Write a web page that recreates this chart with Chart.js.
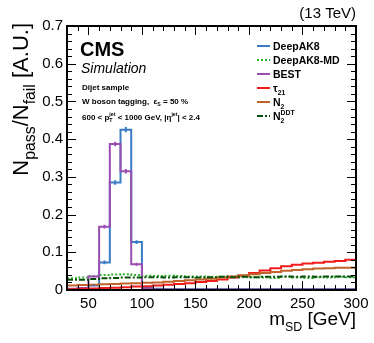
<!DOCTYPE html>
<html><head><meta charset="utf-8">
<script src="https://cdn.jsdelivr.net/npm/chart.js@4/dist/chart.umd.min.js"></script>
<style>html,body{margin:0;padding:0;background:#fff}canvas{display:block}</style>
</head><body>
<canvas id="c" width="374" height="343"></canvas>
<script>
// ---- data ----
const binEdges = [30,40,50,60,70,80,90,100,110,120,130,140,150,160,170,180,190,200,210,220,230,240,250,260,270,280,290,300];
const deepAK8   = [0.002,0.004,0.012,0.073,0.285,0.425,0.127,0.008,0.003,0.002,0.002,0.002,0.002,0.002,0.002,0.002,0.002,0.002,0.002,0.002,0.002,0.002,0.002,0.002,0.002,0.002,0.002];
const deepAK8Err= [0,0,0.002,0.005,0.006,0.007,0.005,0,0,0,0,0,0,0,0,0,0,0,0,0,0,0,0,0,0,0,0];
const deepAK8MD = [0.031,0.033,0.037,0.040,0.041,0.042,0.040,0.038,0.037,0.038,0.037,0.036,0.036,0.035,0.035,0.036,0.034,0.034,0.033,0.032,0.035,0.033,0.032,0.034,0.033,0.035,0.034];
const best      = [0.003,0.005,0.036,0.168,0.387,0.315,0.068,0.004,0.001,0.001,0.001,0.001,0.001,0.001,0.001,0.001,0.001,0.001,0.001,0.001,0.001,0.001,0.001,0.001,0.001,0.001,0.001];
const bestErr   = [0,0,0.002,0.005,0.006,0.006,0.004,0,0,0,0,0,0,0,0,0,0,0,0,0,0,0,0,0,0,0,0];
const tau21     = [0.002,0.003,0.004,0.005,0.006,0.007,0.009,0.010,0.012,0.014,0.016,0.018,0.021,0.024,0.028,0.033,0.038,0.045,0.052,0.058,0.063,0.067,0.070,0.072,0.075,0.077,0.080];
const n2        = [0.012,0.013,0.014,0.015,0.016,0.017,0.018,0.019,0.020,0.022,0.024,0.026,0.028,0.030,0.033,0.036,0.039,0.042,0.045,0.048,0.051,0.053,0.055,0.057,0.058,0.059,0.059];
const n2DDT     = [0.027,0.027,0.029,0.031,0.032,0.033,0.033,0.034,0.034,0.033,0.034,0.034,0.033,0.034,0.035,0.034,0.035,0.034,0.035,0.035,0.036,0.035,0.036,0.035,0.036,0.036,0.036];
const xTickLabels = [50,100,150,200,250,300];
const yTickLabels = [0,0.1,0.2,0.3,0.4,0.5,0.6,0.7];

const FONT = '"Liberation Sans", Arial, Helvetica, sans-serif';

function histPoints(vals){
  const pts = vals.map((v,i)=>({x:binEdges[i], y:v}));
  pts.push({x:binEdges[binEdges.length-1], y:vals[vals.length-1]});
  return pts;
}

const series = [
  {label:'DeepAK8',    data:deepAK8,   err:deepAK8Err, color:'#3b7cc4', dash:[]},
  {label:'DeepAK8-MD', data:deepAK8MD, color:'#2fb02f', dash:[2,2]},
  {label:'BEST',       data:best,      err:bestErr, color:'#9a4eb2', dash:[]},
  {label:'tau21',      data:tau21,     color:'#f01c1c', dash:[]},
  {label:'N2',         data:n2,        color:'#c0642c', dash:[]},
  {label:'N2DDT',      data:n2DDT,     color:'#0b4d0b', dash:[6,2,2,2]}
];

function richWidth(ctx, parts, size, weight, style, sf){
  sf = sf || 0.65;
  let w=0;
  for(const p of parts){
    if(p.stack){
      ctx.font = `${style||''} ${weight||''} ${size*sf}px ${FONT}`;
      w += Math.max(ctx.measureText(p.sub).width, ctx.measureText(p.sup).width);
    } else {
      const s = (p.sub||p.sup)? size*sf : size;
      ctx.font = `${style||''} ${weight||''} ${s}px ${FONT}`;
      w += ctx.measureText(p.t).width;
    }
  }
  return w;
}
function drawRich(ctx, x, y, parts, size, weight, style, sf){
  sf = sf || 0.65;
  ctx.textAlign='left'; ctx.textBaseline='alphabetic';
  for(const p of parts){
    if(p.stack){
      const s=size*sf;
      ctx.font = `${style||''} ${weight||''} ${s}px ${FONT}`;
      ctx.fillText(p.sub, x, y+size*0.3);
      ctx.fillText(p.sup, x, y-size*0.45);
      x += Math.max(ctx.measureText(p.sub).width, ctx.measureText(p.sup).width);
    } else if(p.sub||p.sup){
      const s=size*sf;
      ctx.font = `${style||''} ${weight||''} ${s}px ${FONT}`;
      ctx.fillText(p.t, x, y + (p.sub? size*0.3 : -size*0.45));
      x += ctx.measureText(p.t).width;
    } else {
      ctx.font = `${style||''} ${weight||''} ${size}px ${FONT}`;
      ctx.fillText(p.t, x, y);
      x += ctx.measureText(p.t).width;
    }
  }
  return x;
}

const legendLabels = [
  [{t:'DeepAK8'}],
  [{t:'DeepAK8-MD'}],
  [{t:'BEST'}],
  [{t:'\u03C4'},{t:'21',sub:true}],
  [{t:'N'},{t:'2',sub:true}],
  [{t:'N'},{stack:true, sub:'2', sup:'DDT'}]
];

const errorBars = {
  id:'errorBars',
  afterDatasetsDraw(chart){
    const {ctx, scales:{x,y}} = chart;
    ctx.save();
    chart.data.datasets.forEach(ds=>{
      if(!ds.err) return;
      ctx.strokeStyle = ds.borderColor; ctx.lineWidth = 2;
      ctx.beginPath();
      ds.err.forEach((e,i)=>{
        if(!e) return;
        const v = ds.vals[i];
        const cx = x.getPixelForValue((binEdges[i]+binEdges[i+1])/2);
        ctx.moveTo(cx, y.getPixelForValue(v-e));
        ctx.lineTo(cx, y.getPixelForValue(v+e));
      });
      ctx.stroke();
    });
    ctx.restore();
  }
};

const decor = {
  id:'decor',
  afterDraw(chart){
    const {ctx, chartArea:a, scales:{x,y}} = chart;
    ctx.save();
    ctx.strokeStyle='#000'; ctx.lineWidth=1;
    ctx.beginPath();
    for(let v=30; v<=300; v+=10){
      const px = Math.round(x.getPixelForValue(v))+0.5;
      const L = (v%50===0)?9:5;
      ctx.moveTo(px,a.bottom); ctx.lineTo(px,a.bottom-L);
      ctx.moveTo(px,a.top); ctx.lineTo(px,a.top+L);
    }
    for(let i=0;i<=35;i++){
      const py = Math.round(y.getPixelForValue(i*0.02))+0.5;
      const L = (i%5===0)?9:5;
      ctx.moveTo(a.left,py); ctx.lineTo(a.left+L,py);
      ctx.moveTo(a.right,py); ctx.lineTo(a.right-L,py);
    }
    ctx.stroke();
    ctx.lineWidth=2;
    ctx.strokeRect(a.left,a.top,a.right-a.left,a.bottom-a.top);

    ctx.fillStyle='#000';
    ctx.font = `15px ${FONT}`; ctx.textAlign='right'; ctx.textBaseline='alphabetic';
    ctx.fillText('(13 TeV)', a.right, 18);
    ctx.textAlign='left';
    ctx.font = `bold 20px ${FONT}`; ctx.fillText('CMS', 80, 56);
    ctx.font = `italic 14px ${FONT}`; ctx.fillText('Simulation', 81, 73);
    drawRich(ctx, 82, 90, [{t:'Dijet sample'}], 8, 'bold');
    drawRich(ctx, 82, 104, [{t:'W boson tagging,  \u03B5'},{t:'S',sub:true},{t:' = 50 %'}], 8, 'bold');
    drawRich(ctx, 82, 120, [{t:'600 < p'},{stack:true, sub:'T', sup:'jet'},{t:' < 1000 GeV, |\u03B7'},{t:'jet',sup:true},{t:'| < 2.4'}], 8, 'bold');

    const rows=[46,60,74,88,102,116];
    series.forEach((s,i)=>{
      const yy = rows[i];
      ctx.strokeStyle = s.color; ctx.lineWidth=2; ctx.setLineDash(s.dash);
      ctx.beginPath(); ctx.moveTo(257,yy); ctx.lineTo(270,yy); ctx.stroke();
      ctx.setLineDash([]);
      ctx.fillStyle='#000';
      drawRich(ctx, 273, yy+4, legendLabels[i], 10.5, 'bold');
    });

    const xt = [{t:'m'},{t:'SD',sub:true},{t:' [GeV]'}];
    const w = richWidth(ctx, xt, 19);
    drawRich(ctx, a.right - w, 325, xt, 19);
    ctx.save();
    const yt = [{t:'N'},{t:'pass',sub:true},{t:'/N'},{t:'fail',sub:true},{t:' [A.U.]'}];
    const wy = richWidth(ctx, yt, 22, '', '', 0.72);
    ctx.translate(28, a.top - 3 + wy); ctx.rotate(-Math.PI/2);
    drawRich(ctx, 0, 0, yt, 22, '', '', 0.72);
    ctx.restore();
    ctx.restore();
  }
};

new Chart(document.getElementById('c'), {
  type:'line',
  data:{
    datasets: series.map((s,i)=>({
      label:s.label, data:histPoints(s.data), vals:s.data, err:s.err,
      borderColor:s.color, borderWidth:2, borderDash:s.dash,
      stepped:'before', pointRadius:0, fill:false, tension:0,
      order: series.length - i
    }))
  },
  options:{
    responsive:false, animation:false, devicePixelRatio:1,
    layout:{padding:{left:0, top:26, right:18, bottom:0}},
    plugins:{legend:{display:false}, tooltip:{enabled:false}},
    scales:{
      x:{type:'linear', min:30, max:300,
        afterBuildTicks(s){ s.ticks = xTickLabels.map(v=>({value:v})); },
        afterFit(s){ s.height = 53; },
        grid:{display:false, drawTicks:false}, border:{display:false},
        ticks:{color:'#000', font:{family:FONT, size:15}, padding:5, maxRotation:0, autoSkip:false}
      },
      y:{type:'linear', min:0, max:0.7,
        afterBuildTicks(s){ s.ticks = yTickLabels.map(v=>({value:v})); },
        afterFit(s){ s.width = 67; },
        grid:{display:false, drawTicks:false}, border:{display:false},
        ticks:{color:'#000', font:{family:FONT, size:15}, padding:4, autoSkip:false,
          callback:(v)=> v===0 ? '0' : v.toFixed(1)}
      }
    }
  },
  plugins:[errorBars, decor]
});
</script>
</body></html>
